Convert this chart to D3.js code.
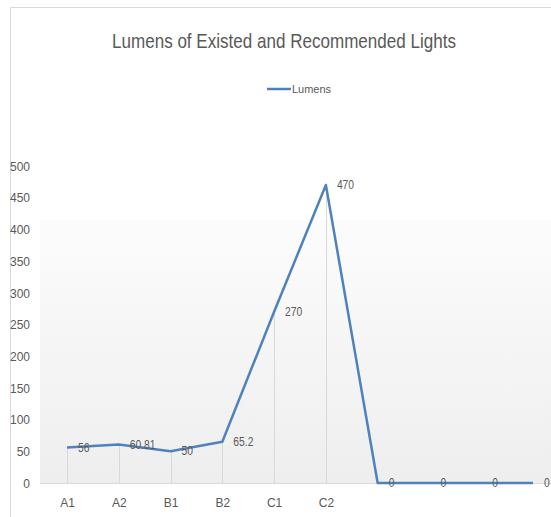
<!DOCTYPE html>
<html>
<head>
<meta charset="utf-8">
<script src="https://cdn.jsdelivr.net/npm/d3@7"></script>
<style>
  html, body { margin: 0; padding: 0; background: #fff; }
  svg { display: block; }
  text { font-family: "Liberation Sans Narrow", "Liberation Sans", sans-serif; fill: #595959; }
</style>
</head>
<body>
<svg id="chart" width="551" height="517"></svg>
<script>
// Light output per fixture
const categories = ["A1", "A2", "B1", "B2", "C1", "C2", "c7", "c8", "c9", "c10"];
const categoryLabels = ["A1", "A2", "B1", "B2", "C1", "C2", "", "", "", ""];
const lumens = [56, 60.81, 50, 65.2, 270, 470, 0, 0, 0, 0];
const valueLabels = ["56", "60.81", "50", "65.2", "270", "470", "0", "0", "0", "0"];
const yTicks = [0, 50, 100, 150, 200, 250, 300, 350, 400, 450, 500];

const svg = d3.select("#chart");
const W = 551, H = 517;

// chart frame
svg.append("path")
  .attr("d", `M10.5,${H} V7.5 H${W}`)
  .attr("fill", "none").attr("stroke", "#d9d9d9").attr("stroke-width", 1);

// title + legend
svg.append("text")
  .attr("x", 284).attr("y", 48)
  .attr("text-anchor", "middle")
  .attr("textLength", 344)
  .attr("lengthAdjust", "spacingAndGlyphs")
  .style("font-size", "21px")
  .text("Lumens of Existed and Recommended Lights");

svg.append("line")
  .attr("x1", 267).attr("x2", 291).attr("y1", 89).attr("y2", 89)
  .attr("stroke", "#4f81bd").attr("stroke-width", 2.5);
svg.append("text")
  .attr("x", 292).attr("y", 93)
  .attr("textLength", 39)
  .attr("lengthAdjust", "spacingAndGlyphs")
  .style("font-size", "11px")
  .text("Lumens");

const x = d3.scalePoint().domain(categories).range([67, 533]);
const y = d3.scaleLinear().domain([0, 500]).range([483, 166]);

// plot area shading
const defs = svg.append("defs");
const grad = defs.append("linearGradient").attr("id", "plotShade")
  .attr("x1", 0).attr("y1", 0).attr("x2", 0).attr("y2", 1);
grad.append("stop").attr("offset", "0%").attr("stop-color", "#fcfcfc");
grad.append("stop").attr("offset", "100%").attr("stop-color", "#eeeeee");
svg.append("rect")
  .attr("x", 40).attr("y", 220).attr("width", W - 40).attr("height", 483 - 220)
  .attr("fill", "url(#plotShade)");

// y axis labels
const yAxis = d3.axisLeft(y).tickValues(yTicks).tickSize(0).tickPadding(0);
svg.append("g")
  .attr("transform", "translate(30,0)")
  .call(yAxis)
  .call(g => g.select(".domain").remove())
  .call(g => g.selectAll("text").style("font-size", "12px").attr("fill", "#595959").attr("dy", "0.35em"));

// x axis
const xAxis = d3.axisBottom(x).tickSize(0).tickPadding(15).tickFormat((d, i) => categoryLabels[i]);
svg.append("g")
  .attr("transform", "translate(0,483)")
  .call(xAxis)
  .call(g => g.select(".domain").remove())
  .call(g => g.selectAll("text").style("font-size", "12px").attr("fill", "#595959"));
svg.append("line")
  .attr("x1", 40).attr("x2", W).attr("y1", 483.5).attr("y2", 483.5)
  .attr("stroke", "#d9d9d9").attr("stroke-width", 1);

// drop lines
svg.append("g").selectAll("line")
  .data(lumens)
  .join("line")
  .attr("x1", (d, i) => Math.round(x(categories[i])) + 0.5)
  .attr("x2", (d, i) => Math.round(x(categories[i])) + 0.5)
  .attr("y1", d => y(d)).attr("y2", y(0))
  .attr("stroke", "#d9d9d9").attr("stroke-width", 1);

// series line
const line = d3.line()
  .x((d, i) => x(categories[i]))
  .y(d => y(d));
svg.append("path")
  .datum(lumens)
  .attr("d", line)
  .attr("fill", "none")
  .attr("stroke", "#4f81bd")
  .attr("stroke-width", 2.5)
  .attr("stroke-linejoin", "round");

// value labels
svg.append("g").selectAll("text")
  .data(lumens)
  .join("text")
  .attr("x", (d, i) => x(categories[i]) + 11)
  .attr("y", d => y(d))
  .attr("dy", "0.35em")
  .style("font-size", "12px")
  .attr("transform", (d, i) => {
    const px = x(categories[i]) + 11;
    return `translate(${px},0) scale(0.86,1) translate(${-px},0)`;
  })
  .text((d, i) => valueLabels[i]);
</script>
</body>
</html>
